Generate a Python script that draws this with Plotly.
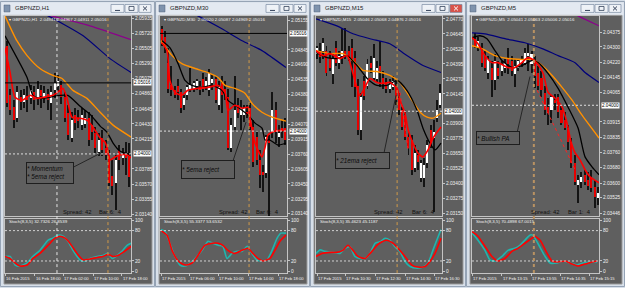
import plotly.graph_objects as go

W, H = 625, 288


def X(p):
    return p / W


def Y(p):
    return 1 - p / H


# ---------------- GBPNZD H1 ----------------
h1_open = [2.05548, 2.04838, 2.04667, 2.04511, 2.04809, 2.04738, 2.04824, 2.04795, 2.04880, 2.04795,
           2.04909, 2.04809, 2.04852, 2.04724, 2.04909, 2.04980, 2.04994, 2.04809, 2.04582, 2.04227,
           2.04554, 2.04511, 2.04412, 2.04426, 2.04511, 2.04412, 2.04298, 2.04028, 2.04227, 2.04085,
           2.03986, 2.03688, 2.03588, 2.04057, 2.03943, 2.04014, 2.03957]
h1_high = [2.05619, 2.04937, 2.04767, 2.04980, 2.04909, 2.04937, 2.04980, 2.04994, 2.04966, 2.05051,
           2.04994, 2.04966, 2.04937, 2.04966, 2.05164, 2.05136, 2.05051, 2.04880, 2.04696, 2.04596,
           2.04653, 2.04625, 2.04653, 2.04625, 2.04596, 2.04554, 2.04383, 2.04298, 2.04341, 2.04199,
           2.04057, 2.03915, 2.03986, 2.04128, 2.04085, 2.04170, 2.04156]
h1_low = [2.04667, 2.04554, 2.04369, 2.04454, 2.04625, 2.04653, 2.04596, 2.04710, 2.04625, 2.04696,
          2.04653, 2.04724, 2.04625, 2.04483, 2.04795, 2.04880, 2.04710, 2.04454, 2.04199, 2.04170,
          2.04341, 2.04369, 2.04341, 2.04369, 2.04114, 2.04199, 2.04014, 2.03972, 2.03972, 2.03915,
          2.03546, 2.03418, 2.03205, 2.03773, 2.03844, 2.03702, 2.03531]
h1_close = [2.04724, 2.04625, 2.04483, 2.04880, 2.04738, 2.04838, 2.04767, 2.04909, 2.04767, 2.04937,
            2.04824, 2.04866, 2.04767, 2.04880, 2.05022, 2.05051, 2.04809, 2.04511, 2.04270, 2.04483,
            2.04440, 2.04469, 2.04554, 2.04511, 2.04199, 2.04312, 2.04085, 2.04199, 2.04057, 2.03986,
            2.03588, 2.03546, 2.03915, 2.03915, 2.04000, 2.03943, 2.03673]
h1_purple_x = [5, 24.4, 36.5]
h1_purple = [2.0607, 2.05832, 2.05633]
h1_blue_x = [8, 12.1, 22.4, 30.3, 36.5]
h1_blue = [2.0606, 2.05974, 2.05690, 2.05363, 2.05164]
h1_orange_x = [-0.6, 2.9, 5.9, 9.7, 13.5, 16.2, 19.4, 23.5, 27.4, 31.2, 36.5]
h1_orange = [2.05974, 2.05619, 2.05406, 2.05221, 2.05122, 2.05079, 2.04909, 2.04795, 2.04596, 2.04412, 2.04241]
h1_black_x = [-0.6, 5.9, 7.6, 9.7, 12.6, 15.6, 17.9, 21.5, 24.4, 27.4, 29.4, 31.2, 33.2, 36.5]
h1_black = [2.0569, 2.05093, 2.04838, 2.04795, 2.04809, 2.04838, 2.04838, 2.04682, 2.04568, 2.04398,
            2.04312, 2.04156, 2.04043, 2.03986]
h1_red_x = [-0.6, 0.9, 2.35, 4.4, 6.8, 8.8, 10.6, 13.5, 15.6, 16.5, 17.6, 19.1, 21.5, 23.5, 25.3, 27.4,
            28.8, 29.4, 30.3, 31.8, 33.2, 35.3, 36.5]
h1_red = [2.05519, 2.05164, 2.04809, 2.04767, 2.04838, 2.04795, 2.04809, 2.04838, 2.04909, 2.04937,
          2.04809, 2.04525, 2.04511, 2.04483, 2.04383, 2.04227, 2.04170, 2.04099, 2.03915, 2.03957,
          2.03986, 2.03986, 2.03943]
h1_k_x = [-0.6, 0.9, 2.4, 3.8, 5.9, 7.6, 9.7, 12.1, 13.5, 15.0, 16.5, 17.9, 19.4, 21.5, 22.9, 24.4,
          26.5, 28.2, 29.7, 30.9, 32.4, 33.8, 35.3, 36.5]
h1_k = [29, 29, 12, 10, 16, 29, 41, 61, 65, 71, 69, 59, 41, 22, 20, 25, 29, 31, 35, 25, 31, 39, 51, 55]
h1_d_x = [-0.6, 0.9, 2.4, 3.8, 5.9, 7.6, 9.7, 12.1, 14.1, 15.6, 17.1, 18.5, 20.6, 22.4, 24.4, 26.5,
          28.2, 29.7, 31.2, 32.6, 34.1, 36.5]
h1_d = [29, 25, 16, 10, 12, 25, 35, 51, 65, 69, 65, 55, 35, 22, 24, 27, 29, 33, 29, 31, 37, 49]
h1_ticks = ["2.05935", "2.05720", "2.05505", "2.05290", "2.05075", "2.04860", "2.04645", "2.04430",
            "2.04215", "2.03785", "2.03570", "2.03355", "2.03140"]
h1_dates = ["16 Feb 2015", "16 Feb 18:00", "17 Feb 02:00", "17 Feb 10:00", "17 Feb 18:00"]
h1_date_x = [-0.55, 8.2, 16.5, 25.3, 33.8]
h1_header = "GBPNZD,H1  2.04941 2.04967 2.04911 2.05016"
h1_stoch_label = "Stoch(8,3,5) 32.7326 26.8539"

# ---------------- GBPNZD M30 ----------------
m30_open = [2.05064, 2.04981, 2.04713, 2.04485, 2.04424, 2.04475, 2.04403, 2.04269, 2.04372, 2.04444,
            2.04444, 2.04475, 2.04475, 2.04547, 2.04465, 2.04424, 2.04506, 2.04547, 2.04269, 2.04506,
            2.04444, 2.04351, 2.03824, 2.04041, 2.04269, 2.04165, 2.04165, 2.04196, 2.04238, 2.04041,
            2.03938, 2.03700, 2.03576, 2.03566, 2.03907, 2.03990, 2.04217, 2.03938, 2.04031, 2.04031]
m30_high = [2.05095, 2.05043, 2.04868, 2.04682, 2.04465, 2.04547, 2.04444, 2.04372, 2.04485, 2.04661,
            2.04527, 2.04547, 2.04527, 2.04609, 2.04568, 2.04651, 2.04589, 2.04578, 2.04527, 2.04578,
            2.04527, 2.04444, 2.04134, 2.04578, 2.04341, 2.04320, 2.04269, 2.04269, 2.04289, 2.04114,
            2.04010, 2.03804, 2.03649, 2.03959, 2.03959, 2.04403, 2.04300, 2.04062, 2.04114, 2.04134]
m30_low = [2.04888, 2.04816, 2.04393, 2.04362, 2.04341, 2.04320, 2.04186, 2.04217, 2.04320, 2.04403,
           2.04403, 2.04424, 2.04372, 2.04403, 2.04424, 2.04362, 2.04424, 2.04289, 2.04217, 2.04186,
           2.04320, 2.03804, 2.03783, 2.04010, 2.04134, 2.03990, 2.04093, 2.04134, 2.04010, 2.03628,
           2.03649, 2.03411, 2.03370, 2.03514, 2.03081, 2.03928, 2.03876, 2.03835, 2.03928, 2.03855]
m30_close = [2.04909, 2.04888, 2.04444, 2.04424, 2.04372, 2.04403, 2.04238, 2.04341, 2.04455, 2.04485,
             2.04506, 2.04527, 2.04424, 2.04444, 2.04527, 2.04609, 2.04547, 2.04320, 2.04455, 2.04372,
             2.04372, 2.03824, 2.04062, 2.04217, 2.04186, 2.04238, 2.04238, 2.04165, 2.04041, 2.03680,
             2.03700, 2.03545, 2.03545, 2.03938, 2.03876, 2.04217, 2.03990, 2.03979, 2.04000, 2.03907]
m30_blue_x = [6, 11.4, 19.0, 25.4, 31.7, 39.3]
m30_blue = [2.0528, 2.05198, 2.05064, 2.04940, 2.04837, 2.04661]
m30_orange_x = [-0.3, 3.2, 6.3, 10.5, 14.6, 17.8, 20.0, 23.1, 26.3, 28.5, 31.7, 34.9, 39.3]
m30_orange = [2.04940, 2.04785, 2.04702, 2.04651, 2.04609, 2.04558, 2.04475, 2.04444, 2.04393, 2.04289,
              2.04196, 2.04145, 2.04103]
m30_black_x = [0, 2.5, 5.1, 7.3, 9.5, 12.7, 15.9, 19.0, 20.9, 24.1, 27.3, 29.5, 31.7, 32.7, 34.2, 36.8, 39.3]
m30_black = [2.04940, 2.04868, 2.04702, 2.04527, 2.04475, 2.04455, 2.04475, 2.04424, 2.04320, 2.04248,
             2.04165, 2.04083, 2.04031, 2.03907, 2.03907, 2.03855, 2.03876]
m30_red_x = [0, 1.6, 2.5, 4.1, 6.3, 8.2, 11.4, 14.6, 17.8, 20.0, 20.9, 23.1, 25.4, 27.3, 27.9, 28.5,
             29.5, 30.4, 31.7, 32.7, 33.6, 35.8, 39.3]
m30_red = [2.04919, 2.04837, 2.04527, 2.04403, 2.04372, 2.04424, 2.04444, 2.04455, 2.04475, 2.04403,
           2.04217, 2.04269, 2.04238, 2.04248, 2.04134, 2.04031, 2.03876, 2.03804, 2.03731, 2.03835,
           2.03959, 2.04000, 2.04010]
m30_k_x = [-0.3, 1.0, 2.5, 4.1, 5.7, 7.3, 8.9, 10.5, 12.7, 14.6, 16.2, 17.8, 19.3, 20.6, 22.2, 23.8,
           25.4, 27.0, 28.5, 30.1, 31.7, 33.3, 34.9, 36.5, 37.7, 39.3]
m30_k = [82, 78, 55, 29, 12, 10, 16, 25, 41, 59, 55, 51, 49, 25, 35, 39, 39, 49, 35, 22, 20, 22, 41, 65, 75, 75]
m30_d_x = [-0.3, 1.6, 3.2, 5.1, 7.3, 9.5, 11.4, 13.6, 15.9, 17.8, 19.3, 20.9, 23.1, 25.4, 27.3, 28.8,
           30.4, 32.0, 34.2, 35.8, 37.4, 39.3]
m30_d = [80, 71, 41, 20, 12, 16, 31, 51, 55, 55, 51, 41, 35, 41, 45, 35, 25, 20, 25, 41, 59, 71]
m30_ticks = ["2.05155", "2.04845", "2.04690", "2.04535", "2.04380", "2.04225", "2.04070", "2.03915",
             "2.03760", "2.03605", "2.03450", "2.03295", "2.03140"]
m30_dates = ["17 Feb 2015", "17 Feb 06:00", "17 Feb 10:00", "17 Feb 14:00", "17 Feb 18:00"]
m30_date_x = [-0.3, 8.6, 17.8, 27.3, 36.8]
m30_header = "GBPNZD,M30  2.05020 2.05087 2.04969 2.05016"
m30_stoch_label = "Stoch(8,3,5) 55.3377 53.6532"

# ---------------- GBPNZD M15 ----------------
m15_open = [2.04480, 2.04505, 2.04505, 2.04505, 2.04447, 2.04315, 2.04530, 2.04406, 2.04464, 2.04505,
            2.04505, 2.04530, 2.04447, 2.04215, 2.03843, 2.04257, 2.04215, 2.04406, 2.04282, 2.04273,
            2.04381, 2.04282, 2.04240, 2.04190, 2.04199, 2.04215, 2.04108, 2.04008, 2.03967, 2.03785,
            2.03760, 2.03530, 2.03636, 2.03445, 2.03445, 2.03569, 2.03843, 2.03776, 2.03942, 2.04050]
m15_high = [2.04546, 2.04571, 2.04613, 2.04546, 2.04505, 2.04480, 2.04588, 2.04505, 2.04696, 2.04696,
            2.04546, 2.04604, 2.04505, 2.04273, 2.04157, 2.04298, 2.04439, 2.04464, 2.04563, 2.04422,
            2.04588, 2.04340, 2.04282, 2.04273, 2.04298, 2.04257, 2.04157, 2.04050, 2.04008, 2.03843,
            2.03801, 2.03718, 2.03677, 2.03594, 2.03611, 2.03760, 2.03884, 2.03925, 2.04091, 2.04232]
m15_low = [2.04439, 2.04406, 2.04439, 2.04298, 2.04340, 2.04232, 2.04381, 2.04356, 2.04397, 2.04439,
           2.04422, 2.04199, 2.04116, 2.03801, 2.03760, 2.04091, 2.04190, 2.04323, 2.04257, 2.04240,
           2.04199, 2.04190, 2.04157, 2.04157, 2.04174, 2.04050, 2.03967, 2.03843, 2.03760, 2.03636,
           2.03470, 2.03495, 2.03512, 2.03412, 2.03371, 2.03530, 2.03694, 2.03164, 2.03909, 2.04025]
m15_close = [2.04530, 2.04455, 2.04571, 2.04323, 2.04364, 2.04439, 2.04406, 2.04464, 2.04505, 2.04464,
             2.04439, 2.04422, 2.04199, 2.03843, 2.04116, 2.04132, 2.04397, 2.04364, 2.04447, 2.04364,
             2.04340, 2.04232, 2.04190, 2.04232, 2.04257, 2.04091, 2.04008, 2.03868, 2.03785, 2.03694,
             2.03512, 2.03652, 2.03578, 2.03569, 2.03553, 2.03718, 2.03735, 2.03826, 2.04008, 2.04149]
m15_blue_x = [-0.3, 6.3, 11.4, 16.8, 23.1, 28.5, 33.6, 39.3]
m15_blue = [2.04770, 2.04712, 2.04646, 2.04604, 2.04563, 2.04464, 2.04381, 2.04323]
m15_orange_x = [-0.3, 4.1, 8.2, 11.4, 14.6, 19.0, 23.1, 26.3, 29.5, 32.7, 34.9, 36.8, 39.3]
m15_orange = [2.04505, 2.04480, 2.04480, 2.04422, 2.04340, 2.04331, 2.04298, 2.04240, 2.04116, 2.03992,
              2.03950, 2.03942, 2.03983]
m15_black_x = [-0.3, 3.2, 6.3, 9.5, 12.7, 15.9, 19.0, 22.2, 25.4, 28.5, 31.7, 33.6, 35.8, 37.4, 39.3]
m15_black = [2.04489, 2.04447, 2.04439, 2.04464, 2.04381, 2.04273, 2.04215, 2.04215, 2.04257, 2.04174,
             2.04008, 2.03859, 2.03735, 2.03677, 2.03735]
m15_red_x = [-0.3, 1.9, 4.1, 7.3, 9.5, 11.4, 13.6, 15.2, 16.8, 19.0, 20.9, 23.1, 25.4, 26.3, 27.9, 28.9,
             30.4, 32.0, 33.6, 35.2, 36.8, 39.3]
m15_red = [2.04505, 2.04464, 2.04480, 2.04439, 2.04464, 2.04315, 2.04132, 2.04199, 2.04273, 2.04240,
           2.04232, 2.04240, 2.04190, 2.04091, 2.03983, 2.03843, 2.03735, 2.03652, 2.03619, 2.03677,
           2.03776, 2.03868]
m15_k_x = [-0.3, 1.0, 2.5, 5.1, 7.3, 8.9, 10.5, 12.0, 13.6, 15.2, 16.8, 18.4, 20.0, 21.6, 23.1, 24.7,
           26.3, 27.9, 29.5, 31.7, 33.6, 35.2, 36.8, 38.4, 39.3]
m15_k = [35, 42, 39, 37, 35, 45, 48, 29, 25, 25, 35, 55, 58, 65, 61, 48, 38, 19, 9, 6, 8, 16, 42, 68, 82]
m15_d_x = [-0.3, 1.6, 4.1, 6.3, 8.2, 9.8, 11.4, 13.0, 15.2, 17.4, 19.0, 20.6, 22.2, 24.1, 25.7, 27.9,
           30.1, 32.0, 34.2, 35.8, 37.4, 39.3]
m15_d = [29, 35, 37, 37, 41, 51, 41, 29, 25, 39, 51, 58, 61, 55, 45, 29, 12, 8, 9, 19, 35, 65]
m15_trend_x = [26.3, 28.9]
m15_trend = [2.04157, 2.03677]
m15_ticks = ["2.04770", "2.04645", "2.04520", "2.04395", "2.04270", "2.04145", "2.03900", "2.03775",
             "2.03650", "2.03525", "2.03400", "2.03275", "2.03150"]
m15_dates = ["17 Feb 2015", "17 Feb 10:30", "17 Feb 12:30", "17 Feb 14:30", "17 Feb 16:30"]
m15_date_x = [0, 8.9, 18.4, 27.9, 37.1]
m15_header = "GBPNZD,M15  2.05046 2.05068 2.04976 2.05016"
m15_stoch_label = "Stoch(8,3,5) 35.4623 45.1187"

# ---------------- GBPNZD M5 ----------------
m5_open = [2.04342, 2.04301, 2.04281, 2.04255, 2.04168, 2.04194, 2.04128, 2.04194, 2.04179, 2.04194,
           2.04245, 2.04230, 2.04163, 2.04194, 2.04219, 2.04219, 2.04255, 2.04214, 2.04230, 2.04168,
           2.04143, 2.04066, 2.03990, 2.03975, 2.04026, 2.04041, 2.03975, 2.03924, 2.03883, 2.03811,
           2.03704, 2.03592, 2.03607, 2.03643, 2.03618, 2.03628, 2.03582, 2.03526]
m5_high = [2.04372, 2.04352, 2.04321, 2.04281, 2.04255, 2.04230, 2.04265, 2.04230, 2.04230, 2.04240,
           2.04296, 2.04255, 2.04240, 2.04240, 2.04255, 2.04296, 2.04316, 2.04281, 2.04255, 2.04204,
           2.04179, 2.04102, 2.04036, 2.04051, 2.04061, 2.04061, 2.04000, 2.03964, 2.03898, 2.03832,
           2.03745, 2.03643, 2.03658, 2.03669, 2.03658, 2.03669, 2.03618, 2.03582]
m5_low = [2.04296, 2.04281, 2.04199, 2.04179, 2.04138, 2.04041, 2.04077, 2.04138, 2.04153, 2.04168,
          2.04163, 2.04153, 2.04092, 2.04179, 2.04199, 2.04209, 2.04179, 2.04168, 2.04087, 2.04077,
          2.04041, 2.03949, 2.03898, 2.03908, 2.03975, 2.03934, 2.03898, 2.03873, 2.03770, 2.03679,
          2.03592, 2.03500, 2.03577, 2.03592, 2.03567, 2.03556, 2.03475, 2.03490]
m5_close = [2.04306, 2.04332, 2.04219, 2.04194, 2.04240, 2.04128, 2.04230, 2.04153, 2.04214, 2.04219,
            2.04214, 2.04179, 2.04204, 2.04230, 2.04240, 2.04270, 2.04270, 2.04265, 2.04153, 2.04102,
            2.04077, 2.03975, 2.03959, 2.04041, 2.04010, 2.03964, 2.03908, 2.03883, 2.03811, 2.03704,
            2.03607, 2.03618, 2.03633, 2.03607, 2.03587, 2.03577, 2.03531, 2.03551]
m5_purple_x = [25, 31.0, 37.3]
m5_purple = [2.04510, 2.04459, 2.04408]
m5_blue_x = [-0.9, 3.0, 9.0, 15.0, 20.2, 25.0, 30.1, 33.1, 37.3]
m5_blue = [2.04372, 2.04367, 2.04342, 2.04321, 2.04291, 2.04255, 2.04219, 2.04168, 2.04117]
m5_orange_x = [-0.9, 2.1, 6.0, 9.9, 14.1, 17.1, 20.2, 23.2, 26.2, 29.2, 32.2, 37.3]
m5_orange = [2.04306, 2.04291, 2.04255, 2.04240, 2.04235, 2.04235, 2.04204, 2.04153, 2.04092, 2.04026,
             2.03949, 2.03832]
m5_black_x = [-0.9, 1.5, 3.6, 6.0, 8.1, 11.1, 14.1, 17.1, 19.0, 22.0, 25.0, 28.0, 31.0, 33.1, 35.2, 37.3]
m5_black = [2.04347, 2.04357, 2.04342, 2.04281, 2.04230, 2.04194, 2.04204, 2.04230, 2.04219, 2.04163,
            2.04087, 2.03990, 2.03883, 2.03735, 2.03684, 2.03643]
m5_red_x = [-0.9, 0.9, 3.0, 5.1, 6.9, 9.9, 12.0, 14.1, 15.9, 17.4, 18.7, 20.5, 22.0, 24.1, 26.2, 27.7,
            28.9, 30.1, 31.6, 33.1, 34.6, 37.3]
m5_red = [2.04347, 2.04316, 2.04255, 2.04219, 2.04219, 2.04194, 2.04194, 2.04219, 2.04245, 2.04235,
          2.04214, 2.04163, 2.04066, 2.04036, 2.03990, 2.03908, 2.03811, 2.03755, 2.03720, 2.03669,
          2.03633, 2.03602]
m5_k_x = [-0.9, 0.9, 3.0, 4.5, 6.0, 8.1, 9.9, 12.0, 13.5, 15.0, 16.5, 17.4, 18.9, 21.1, 22.6, 24.7,
          26.5, 28.6, 30.7, 32.5, 34.6, 36.7]
m5_k = [75, 61, 41, 22, 20, 29, 41, 45, 51, 61, 71, 71, 55, 29, 16, 16, 20, 16, 12, 16, 18, 18]
m5_d_x = [-0.9, 0.9, 3.0, 5.1, 6.9, 9.0, 11.1, 12.9, 15.0, 17.1, 18.0, 19.6, 21.7, 23.2, 25.0, 27.1,
          29.2, 31.0, 33.1, 35.2, 36.7]
m5_d = [78, 69, 49, 29, 20, 25, 39, 45, 55, 65, 69, 61, 35, 20, 18, 20, 14, 10, 14, 18, 20]
m5_trend_x = [18.7, 30.1]
m5_trend = [2.04077, 2.03669]
m5_ticks = ["2.04375", "2.04300", "2.04220", "2.04145", "2.04065", "2.03915", "2.03835", "2.03760",
            "2.03680", "2.03600", "2.03525", "2.03446"]
m5_dates = ["17 Feb 2015", "17 Feb 13:15", "17 Feb 13:55", "17 Feb 14:35", "17 Feb 15:15"]
m5_date_x = [-0.85, 8.1, 16.9, 25.6, 34.3]
m5_header = "GBPNZD,M5  2.05041 2.05063 2.05006 2.05016"
m5_stoch_label = "Stoch(8,3,5) 70.4898 67.0015"

bid_price = 2.05016
level_price = 2.04000
stoch_levels = [20, 80]
stoch_ticks = [0, 20, 80, 100]

# ---------------- layout description of the four windows ----------------
ORANGE, BLACK, RED, BLUE, PURPLE = "#ff9000", "#000000", "#ff0000", "#00007a", "#8b008b"
panels = [
    dict(title="GBPNZD,H1", header=h1_header, stoch_label=h1_stoch_label, win=(0, 155), plot=(5, 131),
         o=h1_open, h=h1_high, l=h1_low, c=h1_close, xr=(-0.59, 36.47), yr=(2.031054, 2.059738),
         lines=[(h1_purple_x, h1_purple, PURPLE, 1.2), (h1_blue_x, h1_blue, BLUE, 1.2),
                (h1_orange_x, h1_orange, ORANGE, 1.4), (h1_black_x, h1_black, BLACK, 1.3),
                (h1_red_x, h1_red, RED, 1.6)],
         trend=None, k=(h1_k_x, h1_k), d=(h1_d_x, h1_d), ticks=h1_ticks,
         dates=h1_dates, date_x=h1_date_x, bid=True, vline_white=14.7, vline_orange=29.7, vwidth=1,
         spread_x=(61, 97), bar_text="Bar 6:  4",
         note="<i>* Momentum<br>* 5ema reject</i>", note_box=(50, 173, 46, 20), leader=(74, 167, 101, 153),
         active=False),
    dict(title="GBPNZD,M30", header=m30_header, stoch_label=m30_stoch_label, win=(155, 310), plot=(160, 287),
         o=m30_open, h=m30_high, l=m30_low, c=m30_close, xr=(-0.63, 39.63), yr=(2.031116, 2.051983),
         lines=[(m30_blue_x, m30_blue, BLUE, 1.2), (m30_orange_x, m30_orange, ORANGE, 1.4),
                (m30_black_x, m30_black, BLACK, 1.3), (m30_red_x, m30_red, RED, 1.6)],
         trend=None, k=(m30_k_x, m30_k), d=(m30_d_x, m30_d), ticks=m30_ticks,
         dates=m30_dates, date_x=m30_date_x, bid=True, vline_white=None, vline_orange=27.6, vwidth=1,
         spread_x=(217, 254), bar_text="Bar 6:  4",
         note="<i>* 5ema reject</i>", note_box=(207.5, 170, 52, 17), leader=(233, 161, 246, 122),
         active=False),
    dict(title="GBPNZD,M15", header=m15_header, stoch_label=m15_stoch_label, win=(310, 466), plot=(316, 442),
         o=m15_open, h=m15_high, l=m15_low, c=m15_close, xr=(-0.32, 39.63), yr=(2.031223, 2.047949),
         lines=[(m15_blue_x, m15_blue, BLUE, 1.2), (m15_orange_x, m15_orange, ORANGE, 1.4),
                (m15_black_x, m15_black, BLACK, 1.3), (m15_red_x, m15_red, RED, 1.6)],
         trend=(m15_trend_x, m15_trend), k=(m15_k_x, m15_k), d=(m15_d_x, m15_d), ticks=m15_ticks,
         dates=m15_dates, date_x=m15_date_x, bid=False, vline_white=None, vline_orange=25.4, vwidth=1,
         spread_x=(372, 410), bar_text="Bar 6:  4",
         note="<i>* 21ema reject</i>", note_box=(362.5, 160.5, 53, 15), leader=(384, 153, 396, 95),
         active=True),
    dict(title="GBPNZD,M5", header=m5_header, stoch_label=m5_stoch_label, win=(466, 625), plot=(472, 599),
         o=m5_open, h=m5_high, l=m5_low, c=m5_close, xr=(-0.9, 37.3), yr=(2.034288, 2.04459),
         lines=[(m5_purple_x, m5_purple, PURPLE, 1.2), (m5_blue_x, m5_blue, BLUE, 1.2),
                (m5_orange_x, m5_orange, ORANGE, 1.4), (m5_black_x, m5_black, BLACK, 1.3),
                (m5_red_x, m5_red, RED, 1.6)],
         trend=(m5_trend_x, m5_trend), k=(m5_k_x, m5_k), d=(m5_d_x, m5_d), ticks=m5_ticks,
         dates=m5_dates, date_x=m5_date_x, bid=False, vline_white=None, vline_orange=17.7, vwidth=2,
         spread_x=(529, 566), bar_text="Bar 1:  4",
         note="<i>* Bullish PA</i>", note_box=(498, 137.5, 42, 12), leader=(517, 133, 530, 76),
         active=False),
]

FRAME = "#d7dfe9"
TITLEBAR = "#e3e9f1"
EDGE = "#95a3b5"
CHART_BG = "#5f5f5f"
AXLINE = "#c4c4c4"
TXT = "#f0f0f0"
FONT = "Liberation Sans, Arial, sans-serif"
MAIN_TOP, MAIN_BOT = 15, 217
ST_TOP, ST_BOT = 220, 274


def axn(n, letter):
    return letter if n == 1 else f"{letter}{n}"


def axkey(n, letter):
    return f"{letter}axis" if n == 1 else f"{letter}axis{n}"


fig = go.Figure()
shapes, annotations, axes = [], [], {}

for k, p in enumerate(panels):
    a, b = 2 * k + 1, 2 * k + 2
    xa, ya, xb, yb = axn(a, "x"), axn(a, "y"), axn(b, "x"), axn(b, "y")
    wx0, wx1 = p["win"]
    L, R = p["plot"]

    # ---- window chrome ----
    shapes.append(dict(type="rect", xref="paper", yref="paper", x0=X(wx0 + 0.5), x1=X(wx1 - 0.5),
                       y0=Y(287.5), y1=Y(0.5), fillcolor=FRAME, line=dict(color=EDGE, width=1), layer="below"))
    shapes.append(dict(type="rect", xref="paper", yref="paper", x0=X(wx0 + 1.5), x1=X(wx1 - 1.5),
                       y0=Y(14), y1=Y(1.5), fillcolor=TITLEBAR, line=dict(width=0), layer="below"))
    shapes.append(dict(type="rect", xref="paper", yref="paper", x0=X(wx0 + 4), x1=X(wx1 - 3),
                       y0=Y(285), y1=Y(14.5), fillcolor=CHART_BG, line=dict(color="#9a9a9a", width=1),
                       layer="below"))
    shapes.append(dict(type="rect", xref="paper", yref="paper", x0=X(wx0 + 4), x1=X(wx0 + 10),
                       y0=Y(11), y1=Y(4), fillcolor="#7f93ad", line=dict(color="#4d5f78", width=0.5),
                       layer="below"))
    for i, (bx0, bx1) in enumerate([(wx1 - 44, wx1 - 31), (wx1 - 30, wx1 - 17), (wx1 - 16, wx1 - 4)]):
        fill = "#d9534a" if (i == 2 and p["active"]) else "#eef2f7"
        shapes.append(dict(type="rect", xref="paper", yref="paper", x0=X(bx0), x1=X(bx1), y0=Y(11.5),
                           y1=Y(3.5), fillcolor=fill, line=dict(color="#7a8ba2", width=0.7), layer="below"))
        cx = (bx0 + bx1) / 2
        gl = "#ffffff" if (i == 2 and p["active"]) else "#34425a"
        if i == 0:
            shapes.append(dict(type="line", xref="paper", yref="paper", x0=X(cx - 2.5), x1=X(cx + 2.5),
                               y0=Y(9.5), y1=Y(9.5), line=dict(color=gl, width=1), layer="below"))
        elif i == 1:
            shapes.append(dict(type="rect", xref="paper", yref="paper", x0=X(cx - 2.5), x1=X(cx + 2.5),
                               y0=Y(9.5), y1=Y(5.5), line=dict(color=gl, width=0.8), layer="below"))
        else:
            shapes.append(dict(type="line", xref="paper", yref="paper", x0=X(cx - 2), x1=X(cx + 2),
                               y0=Y(5.5), y1=Y(9.5), line=dict(color=gl, width=1), layer="below"))
            shapes.append(dict(type="line", xref="paper", yref="paper", x0=X(cx - 2), x1=X(cx + 2),
                               y0=Y(9.5), y1=Y(5.5), line=dict(color=gl, width=1), layer="below"))
    annotations.append(dict(text=p["title"], xref="paper", yref="paper", x=X(wx0 + 13), y=Y(7.5),
                            xanchor="left", yanchor="middle", showarrow=False,
                            font=dict(family=FONT, size=6, color="#1c1c1c")))

    # ---- candles: wicks then bodies ----
    idx = list(range(len(p["o"])))
    fig.add_trace(go.Bar(x=idx, y=[hh - ll for hh, ll in zip(p["h"], p["l"])], base=p["l"], width=0.3,
                         marker=dict(color="#141414", line=dict(width=0)), xaxis=xa, yaxis=ya,
                         hoverinfo="skip", showlegend=False))
    fig.add_trace(go.Bar(x=idx, y=[abs(cc - oo) for oo, cc in zip(p["o"], p["c"])],
                         base=[min(oo, cc) for oo, cc in zip(p["o"], p["c"])], width=0.64,
                         marker=dict(color=["#ffffff" if cc >= oo else "#e80000" for oo, cc in zip(p["o"], p["c"])],
                                     line=dict(width=0)),
                         xaxis=xa, yaxis=ya, hoverinfo="skip", showlegend=False))
    # ---- moving averages ----
    for lx, ly, col, wd in p["lines"]:
        fig.add_trace(go.Scatter(x=lx, y=ly, mode="lines", xaxis=xa, yaxis=ya, hoverinfo="skip",
                                 line=dict(color=col, width=wd, shape="spline", smoothing=0.6),
                                 showlegend=False))
    if p["trend"]:
        fig.add_trace(go.Scatter(x=p["trend"][0], y=p["trend"][1], mode="lines", xaxis=xa, yaxis=ya,
                                 hoverinfo="skip", line=dict(color="#ff2020", width=1, dash="dot"),
                                 showlegend=False))
    # ---- stochastic ----
    fig.add_trace(go.Scatter(x=p["k"][0], y=p["k"][1], mode="lines", xaxis=xb, yaxis=yb, hoverinfo="skip",
                             line=dict(color="#1fb5ad", width=1.6, shape="spline", smoothing=0.6),
                             showlegend=False))
    fig.add_trace(go.Scatter(x=p["d"][0], y=p["d"][1], mode="lines", xaxis=xb, yaxis=yb, hoverinfo="skip",
                             line=dict(color="#ff0000", width=1.6, shape="spline", smoothing=0.6),
                             showlegend=False))

    # ---- axes ----
    axes[axkey(a, "x")] = dict(domain=[X(L), X(R)], range=list(p["xr"]), anchor=ya, showgrid=False,
                               zeroline=False, showticklabels=False, ticks="", showline=True, mirror=True,
                               linecolor=AXLINE, linewidth=1, fixedrange=True)
    axes[axkey(a, "y")] = dict(domain=[Y(MAIN_BOT), Y(MAIN_TOP)], range=list(p["yr"]), anchor=xa,
                               side="right", showgrid=False, zeroline=False,
                               tickvals=[float(t) for t in p["ticks"]], ticktext=p["ticks"],
                               ticks="outside", ticklen=2, tickcolor=AXLINE,
                               tickfont=dict(family=FONT, size=4.8, color=TXT),
                               showline=True, mirror=True, linecolor=AXLINE, linewidth=1, fixedrange=True)
    axes[axkey(b, "x")] = dict(domain=[X(L), X(R)], range=list(p["xr"]), anchor=yb, showgrid=False,
                               zeroline=False, showticklabels=False, ticks="outside", ticklen=2,
                               tickcolor=AXLINE, tickvals=p["date_x"], showline=True, mirror=True,
                               linecolor=AXLINE, linewidth=1, fixedrange=True)
    axes[axkey(b, "y")] = dict(domain=[Y(ST_BOT), Y(ST_TOP)], range=[-3.9, 102], anchor=xb, side="right",
                               showgrid=False, zeroline=False, tickvals=stoch_ticks,
                               ticktext=[str(v) for v in stoch_ticks], ticks="outside", ticklen=2,
                               tickcolor=AXLINE, tickfont=dict(family=FONT, size=4.8, color=TXT),
                               showline=True, mirror=True, linecolor=AXLINE, linewidth=1, fixedrange=True)

    # ---- horizontal / vertical helper lines ----
    shapes.append(dict(type="line", xref=f"{xa} domain", yref=ya, x0=0, x1=1, y0=level_price, y1=level_price,
                       line=dict(color="#dedede", width=1, dash="2px,2px")))
    if p["bid"]:
        shapes.append(dict(type="line", xref=f"{xa} domain", yref=ya, x0=0, x1=1, y0=bid_price, y1=bid_price,
                           line=dict(color="#000000", width=1)))
    for lv in stoch_levels:
        shapes.append(dict(type="line", xref=f"{xb} domain", yref=yb, x0=0, x1=1, y0=lv, y1=lv,
                           line=dict(color="#d0d0d0", width=1, dash="2px,2px")))
    if p["vline_white"] is not None:
        shapes.append(dict(type="line", xref=xa, yref="paper", x0=p["vline_white"], x1=p["vline_white"],
                           y0=Y(ST_BOT), y1=Y(MAIN_TOP), line=dict(color="#e6e6e6", width=1, dash="dot")))
    shapes.append(dict(type="line", xref=xa, yref="paper", x0=p["vline_orange"], x1=p["vline_orange"],
                       y0=Y(ST_BOT), y1=Y(MAIN_TOP),
                       line=dict(color="#d19a48" if p["vwidth"] == 1 else "#b99262", width=p["vwidth"],
                                 dash="dot")))

    # ---- price boxes ----
    boxes = [(level_price, "2.04000")] + ([(bid_price, "2.05016")] if p["bid"] else [])
    for pv, txt in boxes:
        annotations.append(dict(text=txt, xref="paper", yref=ya, x=X(R + 1.5), y=pv, xanchor="left",
                                yanchor="middle", showarrow=False, bgcolor="#ffffff", borderpad=0,
                                font=dict(family=FONT, size=4.6, color="#000000")))

    # ---- texts inside the chart ----
    annotations.append(dict(text="\u25be " + p["header"], xref="paper", yref="paper", x=X(L + 2), y=Y(19),
                            xanchor="left", yanchor="middle", showarrow=False,
                            font=dict(family=FONT, size=4.4, color=TXT)))
    annotations.append(dict(text=p["stoch_label"], xref="paper", yref="paper", x=X(L + 2), y=Y(222.5),
                            xanchor="left", yanchor="middle", showarrow=False,
                            font=dict(family=FONT, size=4.4, color=TXT)))
    sx, bx = p["spread_x"]
    annotations.append(dict(text="Spread: 42", xref="paper", yref="paper", x=X(sx), y=Y(212.5),
                            xanchor="left", yanchor="middle", showarrow=False,
                            font=dict(family=FONT, size=5.8, color="#101010")))
    annotations.append(dict(text=p["bar_text"], xref="paper", yref="paper", x=X(bx), y=Y(212.5),
                            xanchor="left", yanchor="middle", showarrow=False,
                            font=dict(family=FONT, size=5.8, color="#101010")))
    for dt, dxv in zip(p["dates"], p["date_x"]):
        annotations.append(dict(text=dt, xref=xb, yref="paper", x=dxv, y=Y(279.5), xanchor="left",
                                yanchor="middle", showarrow=False, borderpad=0,
                                font=dict(family=FONT, size=4.2, color=TXT)))

    # ---- comment box with leader line ----
    cx, cy, bw, bh = p["note_box"]
    annotations.append(dict(text=p["note"], xref="paper", yref="paper", x=X(cx), y=Y(cy), xanchor="center",
                            yanchor="middle", showarrow=False, width=bw, height=bh, align="left",
                            bordercolor="#1e1e1e", borderwidth=1, borderpad=0, bgcolor=CHART_BG,
                            font=dict(family=FONT, size=6.3, color="#0c0c0c")))
    lx0, ly0, lx1, ly1 = p["leader"]
    shapes.append(dict(type="line", xref="paper", yref="paper", x0=X(lx0), y0=Y(ly0), x1=X(lx1), y1=Y(ly1),
                       line=dict(color="#262626", width=1)))

fig.update_layout(
    width=W, height=H, margin=dict(l=0, r=0, t=0, b=0, pad=0),
    paper_bgcolor=FRAME, plot_bgcolor="rgba(0,0,0,0)",
    showlegend=False, barmode="overlay", bargap=0,
    shapes=shapes, annotations=annotations, **axes,
)

fig.write_html("out.html")
